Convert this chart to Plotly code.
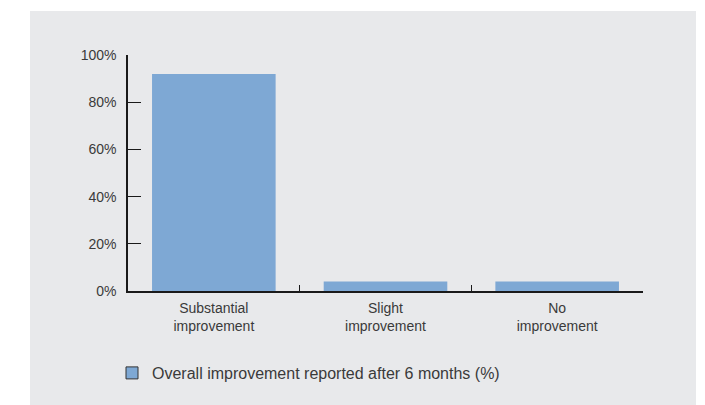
import plotly.graph_objects as go

categories = ["Substantial<br>improvement", "Slight<br>improvement", "No<br>improvement"]
values = [92, 4, 4]
y_ticks = [0, 20, 40, 60, 80, 100]
y_tick_labels = ["0%", "20%", "40%", "60%", "80%", "100%"]
series_name = "Overall improvement reported after 6 months (%)"

BLUE = "#7ea8d4"
PANEL = "#e8e9eb"
TXT = "#3a3a3a"
FONT = "Liberation Sans, Arial, sans-serif"

W, H = 705, 405
L, R, T, B = 128, 62, 55, 114
pw, ph = W - L - R, H - T - B

def px_x(x):
    return (x - L) / pw

def px_y(y):
    return (H - B - y) / ph

fig = go.Figure()
fig.add_trace(go.Bar(
    x=categories, y=values, width=0.72,
    marker=dict(color=BLUE, line=dict(width=0)),
    showlegend=False, hoverinfo="skip",
))
# legend entry (outlined swatch)
fig.add_trace(go.Bar(
    x=categories, y=[None] * len(categories), name=series_name,
    marker=dict(color=BLUE, line=dict(color="#333333", width=1)),
    showlegend=True,
))

fig.add_shape(type="rect", xref="paper", yref="paper",
              x0=px_x(30), x1=px_x(696), y0=px_y(405), y1=px_y(11),
              fillcolor=PANEL, line=dict(width=0), layer="below")

fig.update_layout(
    width=W, height=H,
    margin=dict(l=L, r=R, t=T, b=B, pad=0),
    paper_bgcolor="white", plot_bgcolor="rgba(0,0,0,0)",
    barmode="overlay",
    font=dict(family=FONT, size=14, color=TXT),
    showlegend=True,
    legend=dict(x=px_x(112), xanchor="left", y=px_y(373), yanchor="middle",
                bgcolor="rgba(0,0,0,0)", font=dict(size=16, color=TXT),
                borderwidth=0),
    xaxis=dict(
        type="category", showgrid=False, zeroline=False,
        showline=True, linecolor="#1a1a1a", linewidth=1.5,
        ticks="inside", tickson="boundaries", ticklen=6, tickcolor="#1a1a1a", tickwidth=1,
        tickfont=dict(size=14, color=TXT), ticklabelstandoff=3,
        fixedrange=True,
    ),
    yaxis=dict(
        range=[0, 100], tickvals=y_ticks, ticktext=y_tick_labels,
        showgrid=False, zeroline=False,
        showline=True, linecolor="#1a1a1a", linewidth=1.5,
        ticks="inside", ticklen=13, tickcolor="#1a1a1a", tickwidth=1,
        tickfont=dict(size=14, color=TXT), ticklabelstandoff=7,
        fixedrange=True,
    ),
)

fig.write_html("out.html")
